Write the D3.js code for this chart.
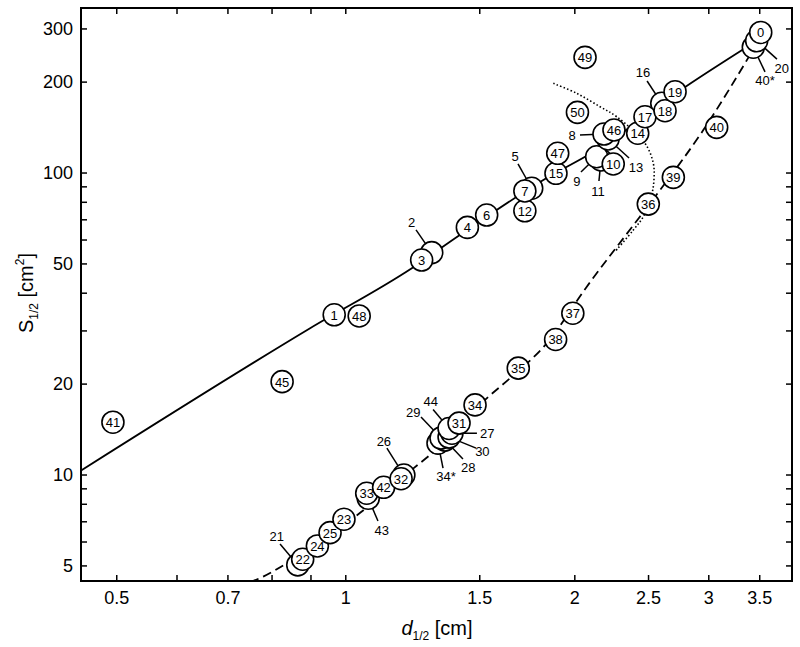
<!DOCTYPE html>
<html>
<head>
<meta charset="utf-8">
<script src="https://cdn.jsdelivr.net/npm/d3@7"></script>
<style>
  body { margin: 0; background: #fff; }
  text { font-family: "Liberation Sans", Arial, Helvetica, sans-serif; fill: #000; }
</style>
</head>
<body>
<svg id="chart" width="800" height="647"></svg>
<script>
// measured points: label, d1/2 [cm], S1/2 [cm^2]
const pointIds = ['0','20','40*','1','48','2','3','4','6','5','7','12','15','47','50','49','8','13','46','9',
  '11','10','14','17','18','16','19','40','39','36','37','38','35','34','31','44','27','30','28','29',
  '34*','26','32','42','33','43','23','25','24','22','21','41','45']
const pointD = [3.516,3.473,3.438,0.967,1.043,1.299,1.260,1.447,1.534,1.758,1.722,1.722,1.892,1.902,2.019,2.066,2.188,2.215,2.255,2.140,
  2.168,2.250,2.423,2.477,2.632,2.606,2.713,3.077,2.699,2.502,1.991,1.890,1.688,1.481,1.411,1.369,1.381,1.369,1.352,1.336,
  1.324,1.194,1.184,1.123,1.067,1.072,0.996,0.955,0.919,0.879,0.866,0.495,0.826]
const pointS = [291,273,260,33.8,33.5,54.3,51.3,65.8,72.3,88.7,86.9,74.7,99.4,115.8,158.2,240.7,134.1,129.1,138.3,112.8,
  110.0,106.7,134.9,153.0,160.2,169.5,185.2,141.1,96.4,78.6,34.2,28.0,22.5,17.0,14.8,14.2,13.7,13.3,13.0,13.2,
  12.7,9.96,9.68,9.07,8.67,8.34,7.11,6.42,5.80,5.24,5.02,14.9,20.3]

// curves
const solidD = [0.449,0.899,1.223,1.408,1.821,2.140,2.810,3.336]
const solidS = [10.29,30.5,48.2,61.6,94.5,118.7,193.4,255.9]
const dashedD = [0.750,0.780,0.833,1.046,1.229,1.292,1.542,1.646,1.840,2.077,2.439,2.593,2.955,3.403]
const dashedS = [4.40,4.59,5.04,7.47,10.48,11.60,18.09,20.82,27.19,41.88,71.4,87.5,138.2,245]
const dottedD = [1.877,2.015,2.162,2.274,2.477,2.540,2.545,2.527,2.464,2.391,2.262]
const dottedS = [197.4,182.9,165.1,153.0,125.0,107.3,94.45,84.2,71.4,64.5,54.7]

// ticks
const xTicks = [0.5,0.6,0.7,0.8,0.9,1,1.5,2,2.5,3,3.5]
const xTickLabels = [0.5,0.7,1,1.5,2,2.5,3,3.5]
const yTicks = [5,6,7,8,9,10,20,30,40,50,60,70,80,90,100,200,300]
const yTickLabels = [5,10,20,50,100,200,300]

// hidden points get a leader: label offset (lx,ly) and leader end (ex,ey), px from circle centre
const callouts = {
  '2': [-20,-30.4,-15.7,-22.7], '5': [-16.7,-31.6,-13.7,-24.3], '8': [-32,1,-24,1],
  '9': [-19.7,24.3,-15.7,15.3], '11': [-3,31,-2,21], '13': [28,28,21,19],
  '16': [-18.7,-30.6,-14.7,-22.3], '20': [25,27.6,20.3,18.3], '40*': [11.7,33.7,11.7,24.7],
  '21': [-21,-28.3,-17.7,-21], '26': [-20,-34,-17,-27], '27': [35.3,0.3,25,0],
  '28': [23.3,27.7,18,19], '29': [-27.7,-25.7,-20,-21], '30': [33.3,14.7,27,11],
  '34*': [8,33.7,5,25], '43': [13.4,31.7,9.7,22.7], '44': [-18.3,-26.7,-16,-19]
}

const width = 800, height = 647
const margin = { left: 81, right: 8, top: 8, bottom: 66 }
const svg = d3.select('#chart')

const x = d3.scaleLog().domain([0.4494, 3.865]).range([margin.left, width - margin.right])
const y = d3.scaleLog().domain([4.44, 350.6]).range([height - margin.bottom, margin.top])

svg.append('defs').append('clipPath').attr('id', 'plot')
  .append('rect')
  .attr('x', margin.left).attr('y', margin.top)
  .attr('width', width - margin.left - margin.right)
  .attr('height', height - margin.top - margin.bottom)

// axes, ticks pointing inward on all four sides
const fmtX = d => xTickLabels.includes(d) ? String(d) : ''
const fmtY = d => yTickLabels.includes(d) ? String(d) : ''

const styleAxis = g => {
  g.select('.domain').remove()
  g.selectAll('.tick line').attr('stroke', '#000').attr('stroke-width', 1.5)
  g.selectAll('.tick text').attr('font-size', 18).attr('fill', '#000')
    .attr('font-family', '"Liberation Sans", Arial, sans-serif')
}

svg.append('g').attr('transform', `translate(0,${y.range()[0]})`)
  .call(d3.axisBottom(x).tickValues(xTicks).tickFormat(fmtX).tickSize(-6).tickPadding(10))
  .call(styleAxis)
svg.append('g').attr('transform', `translate(0,${y.range()[1]})`)
  .call(d3.axisTop(x).tickValues(xTicks).tickFormat('').tickSize(-6))
  .call(styleAxis)
svg.append('g').attr('transform', `translate(${x.range()[0]},0)`)
  .call(d3.axisLeft(y).tickValues(yTicks).tickFormat(fmtY).tickSize(-6).tickPadding(8))
  .call(styleAxis)
svg.append('g').attr('transform', `translate(${x.range()[1]},0)`)
  .call(d3.axisRight(y).tickValues(yTicks).tickFormat('').tickSize(-6))
  .call(styleAxis)

svg.append('rect')
  .attr('x', x.range()[0]).attr('y', y.range()[1])
  .attr('width', x.range()[1] - x.range()[0])
  .attr('height', y.range()[0] - y.range()[1])
  .attr('fill', 'none').attr('stroke', '#000').attr('stroke-width', 2)

// curves
const plot = svg.append('g').attr('clip-path', 'url(#plot)')
const lineMono = d3.line().x(d => x(d[0])).y(d => y(d[1])).curve(d3.curveMonotoneX)
const lineFree = d3.line().x(d => x(d[0])).y(d => y(d[1])).curve(d3.curveCatmullRom.alpha(0.5))

plot.append('path').datum(d3.zip(solidD, solidS)).attr('d', lineMono)
  .attr('fill', 'none').attr('stroke', '#000').attr('stroke-width', 1.8)
plot.append('path').datum(d3.zip(dashedD, dashedS)).attr('d', lineMono)
  .attr('fill', 'none').attr('stroke', '#000').attr('stroke-width', 1.8)
  .attr('stroke-dasharray', '9,5')
plot.append('path').datum(d3.zip(dottedD, dottedS)).attr('d', lineFree)
  .attr('fill', 'none').attr('stroke', '#000').attr('stroke-width', 1.6)
  .attr('stroke-dasharray', '1.5,2.2')

// points: hidden ones (with leaders) go underneath, stacked from low S up
const points = pointIds.map((id, i) => ({ id, d: pointD[i], s: pointS[i], c: callouts[id] }))
const hidden = points.filter(p => p.c).sort((a, b) => a.s - b.s)
const front = points.filter(p => !p.c).sort((a, b) => a.s - b.s)

const r = 11

svg.append('g').selectAll('line').data(hidden).join('line')
  .attr('x1', p => x(p.d)).attr('y1', p => y(p.s))
  .attr('x2', p => x(p.d) + p.c[2]).attr('y2', p => y(p.s) + p.c[3])
  .attr('stroke', '#000').attr('stroke-width', 1.5)

svg.append('g').selectAll('text').data(hidden).join('text')
  .attr('x', p => x(p.d) + p.c[0]).attr('y', p => y(p.s) + p.c[1])
  .attr('text-anchor', 'middle').attr('dominant-baseline', 'central')
  .attr('font-size', 13)
  .text(p => p.id)

const drawCircles = (data) => {
  const g = svg.append('g').selectAll('g').data(data).join('g')
    .attr('transform', p => `translate(${x(p.d)},${y(p.s)})`)
  g.append('circle').attr('r', r)
    .attr('fill', '#fff').attr('stroke', '#000').attr('stroke-width', 1.6)
  return g
}

drawCircles(hidden)
drawCircles(front).append('text')
  .attr('text-anchor', 'middle').attr('dominant-baseline', 'central')
  .attr('y', 0.5)
  .attr('font-size', 13)
  .text(p => p.id)

// axis titles
const xt = svg.append('text')
  .attr('x', 437).attr('y', 635).attr('text-anchor', 'middle').attr('font-size', 20)
xt.append('tspan').attr('font-style', 'italic').text('d')
xt.append('tspan').attr('font-size', 12).attr('dy', 5).text('1/2')
xt.append('tspan').attr('dy', -5).text(' [cm]')

const yt = svg.append('text')
  .attr('transform', 'translate(33,293) rotate(-90)')
  .attr('text-anchor', 'middle').attr('font-size', 20)
yt.append('tspan').text('S')
yt.append('tspan').attr('font-size', 12).attr('dy', 5).text('1/2')
yt.append('tspan').attr('dy', -5).text(' [cm')
yt.append('tspan').attr('font-size', 12).attr('dy', -9).text('2')
yt.append('tspan').attr('dy', 9).text(']')
</script>
</body>
</html>
